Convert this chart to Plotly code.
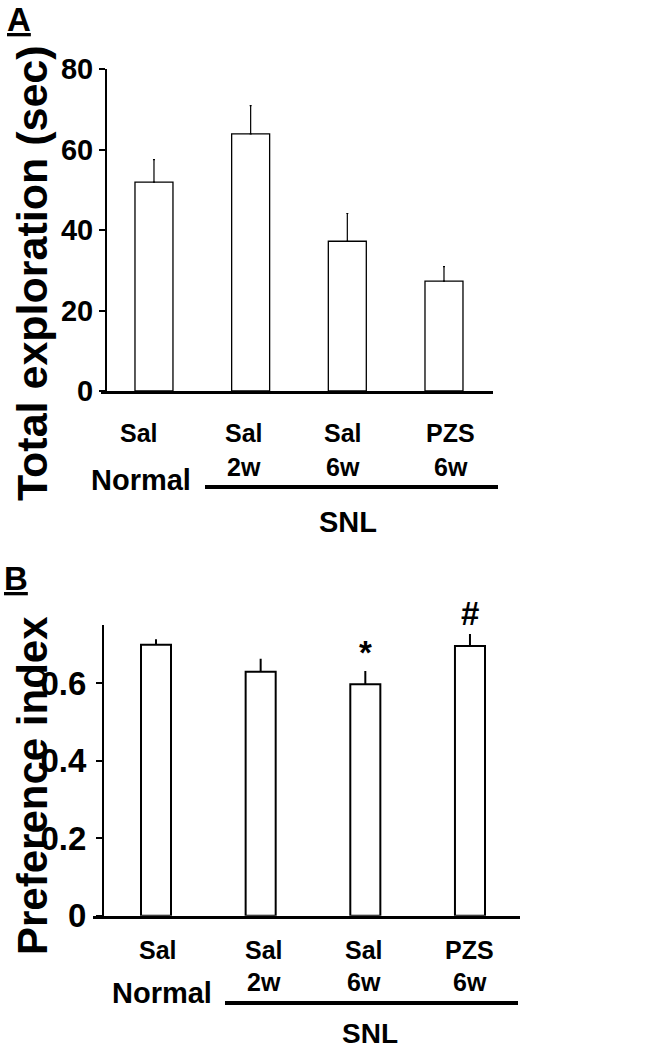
import plotly.graph_objects as go

# ---------------- data ----------------
groups = ["Sal", "Sal", "Sal", "PZS"]
durations = ["", "2w", "6w", "6w"]
explore_mean = [51.9, 63.9, 37.2, 27.3]
explore_sem = [5.6, 7.0, 6.9, 3.6]
pref_mean = [0.700, 0.630, 0.598, 0.697]
pref_sem = [0.014, 0.034, 0.034, 0.031]
yticks_a = [0, 20, 40, 60, 80]
yticks_b = [0, 0.2, 0.4, 0.6]
yticks_b_text = ["0", "0.2", "0.4", "0.6"]
marks_b = ["", "", "*", "#"]

W, H = 650, 1048
def X(px): return px / W
def Y(py): return 1 - py / H

SANS = "Liberation Sans, Arial, Helvetica, sans-serif"
xs = list(range(len(groups)))

fig = go.Figure()

fig.add_trace(go.Bar(
    x=xs, y=explore_mean, width=0.393,
    marker=dict(color="white", line=dict(color="black", width=1.3)),
    error_y=dict(type="data", symmetric=False, array=explore_sem,
                 arrayminus=[0] * 4, color="black", thickness=1.2, width=1),
    xaxis="x", yaxis="y", showlegend=False, hoverinfo="skip"))

fig.add_trace(go.Bar(
    x=xs, y=pref_mean, width=0.287,
    marker=dict(color="white", line=dict(color="black", width=2)),
    error_y=dict(type="data", symmetric=False, array=pref_sem,
                 arrayminus=[0] * 4, color="black", thickness=2, width=0),
    xaxis="x2", yaxis="y2", showlegend=False, hoverinfo="skip"))

tickfont_a = dict(family=SANS, size=29, color="black", weight="bold")
tickfont_b = dict(family=SANS, size=33, color="black", weight="bold")

fig.update_layout(
    width=W, height=H,
    margin=dict(l=0, r=0, t=0, b=0, pad=0, autoexpand=False),
    paper_bgcolor="white", plot_bgcolor="white",
    xaxis=dict(domain=[X(101), X(493)], range=[-0.548, 3.507], anchor="y",
               showline=True, linewidth=3, linecolor="black", automargin=False,
               showticklabels=False, ticks="", showgrid=False, zeroline=False),
    yaxis=dict(domain=[Y(391), Y(69)], range=[0, 80], anchor="free",
               position=X(106), showline=True, linewidth=2, linecolor="black",
               ticks="outside", ticklen=6, tickwidth=2, tickcolor="black",
               tickvals=yticks_a, tickfont=tickfont_a, automargin=False,
               showgrid=False, zeroline=False),
    xaxis2=dict(domain=[X(93), X(520)], range=[-0.602, 3.478], anchor="y2",
                showline=True, linewidth=3, linecolor="black", automargin=False,
                showticklabels=False, ticks="", showgrid=False, zeroline=False),
    yaxis2=dict(domain=[Y(915.7), Y(625)], range=[0, 0.751], anchor="free",
                position=X(103), showline=True, linewidth=2, linecolor="black",
                ticks="outside", ticklen=6, tickwidth=2, tickcolor="black",
                tickvals=yticks_b, ticktext=yticks_b_text, tickfont=tickfont_b,
                ticklabelstandoff=3,
                automargin=False, showgrid=False, zeroline=False),
)

ann = []
def txt(text, x, y, size, xref="paper", xshift=0, angle=0):
    ann.append(dict(text=text, x=x, y=y, xref=xref, yref="paper",
                    xanchor="center", yanchor="middle", showarrow=False,
                    textangle=angle, xshift=xshift,
                    font=dict(family=SANS, size=size, color="black", weight="bold")))

# Panel labels
txt("<u>A</u>", X(19), Y(20), 33)
txt("<u>B</u>", X(16), Y(578), 33)

# Axis titles
txt("Total exploration (sec)", X(32), Y(273), 43, angle=-90)
txt("Preference index", X(32), Y(786), 42, angle=-90)

# Panel A group labels
shift_a = [-15, -7, -4, 7]
for i in xs:
    txt(groups[i], i, Y(433), 25, xref="x", xshift=shift_a[i])
    if durations[i]:
        txt(durations[i], i, Y(467), 25, xref="x", xshift=shift_a[i])
txt("Normal", X(141), Y(480), 29)
txt("SNL", X(348), Y(522), 29)

# Panel B group labels
shift_b = [2, 3, -1, 0]
for i in xs:
    txt(groups[i], i, Y(950), 25, xref="x2", xshift=shift_b[i])
    if durations[i]:
        txt(durations[i], i, Y(982), 25, xref="x2", xshift=shift_b[i])
    if marks_b[i]:
        ypx = 652 if marks_b[i] == "*" else 613
        txt(marks_b[i], i, Y(ypx), 33, xref="x2")
txt("Normal", X(162), Y(993), 29)
txt("SNL", X(370), Y(1033), 28)

fig.update_layout(annotations=ann)

# SNL group lines
fig.add_shape(type="line", xref="paper", yref="paper",
              x0=X(205), x1=X(498), y0=Y(487), y1=Y(487),
              line=dict(color="black", width=4))
fig.add_shape(type="line", xref="paper", yref="paper",
              x0=X(225), x1=X(518), y0=Y(1003), y1=Y(1003),
              line=dict(color="black", width=4))

fig.write_html(
    "out.html",
    config={"displayModeBar": False},
    post_script="document.body.style.margin='0';document.body.style.overflow='hidden';",
)
